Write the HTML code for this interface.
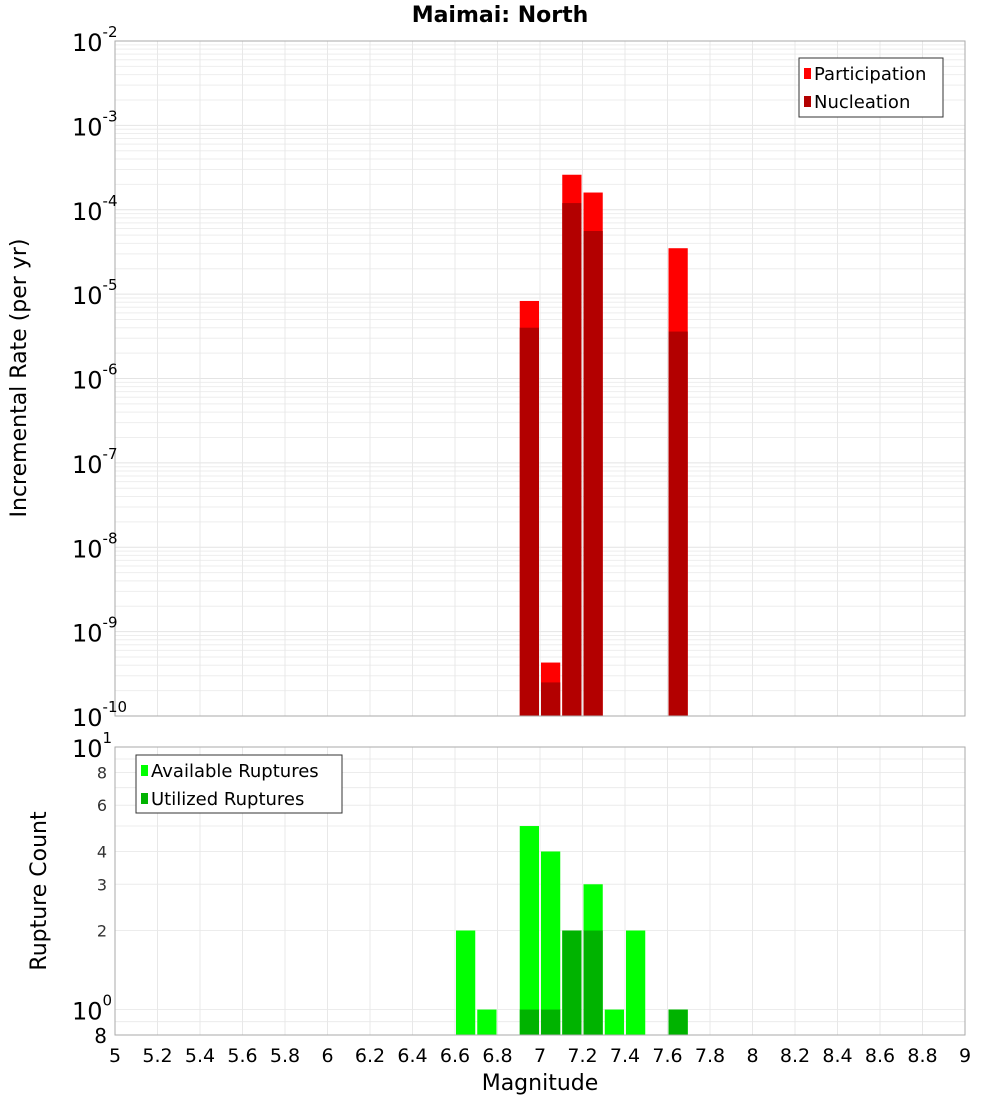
<!DOCTYPE html>
<html><head><meta charset="utf-8"><style>
body{margin:0;background:#fff;}
svg text{font-family:"DejaVu Sans","Liberation Sans",sans-serif;}
</style></head><body>
<svg id="chart" width="1000" height="1100" xmlns="http://www.w3.org/2000/svg">
<rect width="1000" height="1100" fill="#fff"/>
<text x="500" y="22" text-anchor="middle" font-size="22" font-weight="bold">Maimai: North</text>
<g id="topg"></g><g id="botg"></g>
<text transform="translate(26,378) rotate(-90)" text-anchor="middle" font-size="22">Incremental Rate (per yr)</text>
<text transform="translate(46,891) rotate(-90)" text-anchor="middle" font-size="22">Rupture Count</text>
<text x="540" y="1090" text-anchor="middle" font-size="22">Magnitude</text>
</svg>
<script>
const magBins=[6.95,7.05,7.15,7.25,7.65];
const participation=[8.3e-6,4.3e-10,2.6e-4,1.6e-4,3.5e-5];
const nucleation=[4.0e-6,2.5e-10,1.2e-4,5.6e-5,3.6e-6];
const countBins=[6.65,6.75,6.95,7.05,7.15,7.25,7.35,7.45,7.65];
const available=[2,1,5,4,2,3,1,2,1];
const utilBins=[6.95,7.05,7.15,7.25,7.65];
const utilized=[1,1,2,2,1];
const xTicks=[5,5.2,5.4,5.6,5.8,6,6.2,6.4,6.6,6.8,7,7.2,7.4,7.6,7.8,8,8.2,8.4,8.6,8.8,9];
const topExps=[-2,-3,-4,-5,-6,-7,-8,-9,-10];
const botSmall=[8,6,4,3,2];

const NS="http://www.w3.org/2000/svg";
const L=115,R=965;
const xs=m=>L+(m-5)/4*(R-L);
const T0=41,T1=716;
const yT=v=>T0+(-2-Math.log10(v))/8*(T1-T0);
const B0=747,B1=1035;
const yB=v=>B1-(Math.log10(v)-Math.log10(0.8))/(1-Math.log10(0.8))*(B1-B0);
function mk(p,tag,a,txt){const e=document.createElementNS(NS,tag);for(const k in a)e.setAttribute(k,a[k]);if(txt!==undefined)e.textContent=txt;p.appendChild(e);return e;}
const gTop=document.getElementById('topg'),gBot=document.getElementById('botg');
const bw=(R-L)*0.1/4;

for(let d=-10;d<-2;d++)for(let k=1;k<10;k++){const v=k*Math.pow(10,d);const g=mk(gTop,'line',{x1:L,x2:R,y1:yT(v),y2:yT(v),stroke:k==1?'#e4e4e4':'#eeeeee','stroke-width':1});

}
for(const t of xTicks){const g=mk(gTop,'line',{x1:xs(t),x2:xs(t),y1:T0,y2:T1,stroke:'#e8e8e8'});

}
for(const v of [0.8,0.9,1,2,3,4,5,6,7,8,9,10]){const g=mk(gBot,'line',{x1:L,x2:R,y1:yB(v),y2:yB(v),stroke:'#ececec'});

}
for(const t of xTicks){const g=mk(gBot,'line',{x1:xs(t),x2:xs(t),y1:B0,y2:B1,stroke:'#e8e8e8'});

}

magBins.forEach((m,i)=>{
 const p=mk(gTop,'rect',{x:xs(m)-bw/2+1,y:yT(participation[i]),width:bw-2,height:T1-yT(participation[i]),fill:'#ff0000'});
 
 
 const n=mk(gTop,'rect',{x:xs(m)-bw/2+1,y:yT(nucleation[i]),width:bw-2,height:T1-yT(nucleation[i]),fill:'#b30000'});
 
 
});
countBins.forEach((m,i)=>{
 const a=mk(gBot,'rect',{x:xs(m)-bw/2+1,y:yB(available[i]),width:bw-2,height:B1-yB(available[i]),fill:'#00ff00'});
 
 
});
utilBins.forEach((m,i)=>{
 const u=mk(gBot,'rect',{x:xs(m)-bw/2+1,y:yB(utilized[i]),width:bw-2,height:B1-yB(utilized[i]),fill:'#00b300'});
 
 
});
let f=mk(gTop,'rect',{x:L,y:T0,width:R-L,height:T1-T0,fill:'none',stroke:'#aaa'});


f=mk(gBot,'rect',{x:L,y:B0,width:R-L,height:B1-B0,fill:'none',stroke:'#aaa'});



topExps.forEach(e=>{
 const y=yT(Math.pow(10,e));
 const t=mk(gTop,'text',{x:72,y:y+10,'font-size':24});
 
 
 t.textContent='10';
 mk(t,'tspan',{dy:-14,'font-size':15},String(e));
});
[[10,'1'],[1,'0']].forEach(([v,e])=>{
 const t=mk(gBot,'text',{x:72,y:yB(v)+10,'font-size':24});
 
 
 t.textContent='10';
 mk(t,'tspan',{dy:-14,'font-size':15},e);
});
botSmall.forEach(v=>{
 const t=mk(gBot,'text',{x:107,y:yB(v)+6,'font-size':16,'text-anchor':'end',fill:'#333'},String(v));
 
 
});
let t8=mk(gBot,'text',{x:107,y:1043,'font-size':20,'text-anchor':'end'},'8');


xTicks.forEach(v=>{
 const t=mk(gBot,'text',{x:xs(v),y:1062,'font-size':19,'text-anchor':'middle'},String(v));
 
 
});
function legend(p,x0,y0,w,h,items,name){
 const g=mk(p,'g',{});
 
 
 mk(g,'rect',{x:x0,y:y0,width:w,height:h,fill:'#fff',stroke:'#333'});
 items.forEach(([c,l],i)=>{
  mk(g,'rect',{x:x0+5,y:y0+10+i*28,width:7,height:11,fill:c});
  mk(g,'text',{x:x0+15,y:y0+22+i*28,'font-size':18},l);
 });
}
legend(gTop,799,58,144,59,[['#ff0000','Participation'],['#b30000','Nucleation']],'top-legend');
legend(gBot,136,755,206,58,[['#00ff00','Available Ruptures'],['#00b300','Utilized Ruptures']],'bottom-legend');
</script>
</body></html>
